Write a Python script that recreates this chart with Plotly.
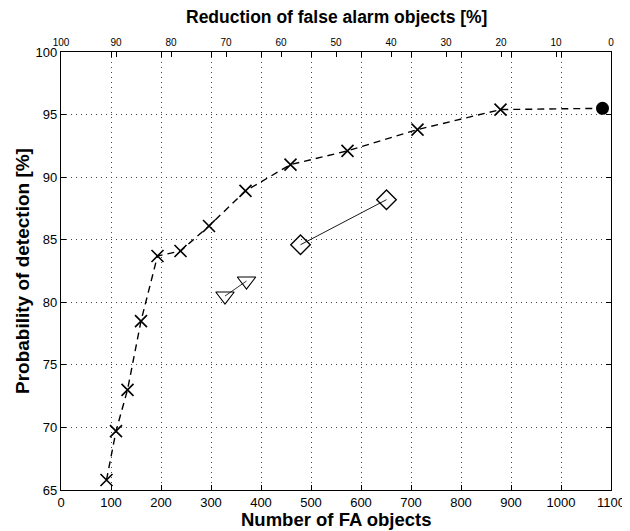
import plotly.graph_objects as go

# Main curve (crosses, dashed)
fa_main = [91, 110, 133, 160, 193, 239, 296, 369, 459, 573, 713, 879, 1083]
pd_main = [65.8, 69.7, 73.0, 78.5, 83.7, 84.1, 86.1, 88.9, 91.0, 92.1, 93.8, 95.4, 95.5]

# Reference point (filled circle)
fa_ref = [1083]
pd_ref = [95.5]

# Triangle pair
fa_tri = [328, 371]
pd_tri = [80.5, 81.7]

# Diamond pair
fa_dia = [479, 651]
pd_dia = [84.6, 88.2]

x_ticks = list(range(0, 1101, 100))
y_ticks = list(range(65, 101, 5))
top_ticks = list(range(0, 101, 10))

FONT = "Liberation Sans Narrow, Liberation Sans, Arial, sans-serif"
TFONT = "Liberation Sans, Arial, sans-serif"

fig = go.Figure()

fig.add_trace(go.Scatter(
    x=fa_main, y=pd_main, mode="lines",
    line=dict(color="black", width=1.4, dash="7px,5px"),
    showlegend=False, hoverinfo="skip"))
fig.add_trace(go.Scatter(
    x=fa_main[:-1], y=pd_main[:-1], mode="markers",
    marker=dict(symbol="x-thin-open", size=12, color="black",
                line=dict(color="black", width=1.6)),
    showlegend=False))
fig.add_trace(go.Scatter(
    x=fa_ref, y=pd_ref, mode="markers",
    marker=dict(symbol="circle", size=13, color="black"),
    showlegend=False))
fig.add_trace(go.Scatter(
    x=fa_tri, y=pd_tri, mode="lines+markers",
    line=dict(color="black", width=0.8),
    marker=dict(symbol="triangle-down-open", size=16, color="black",
                line=dict(color="black", width=1.1)),
    showlegend=False))
fig.add_trace(go.Scatter(
    x=fa_dia, y=pd_dia, mode="lines+markers",
    line=dict(color="black", width=0.9),
    marker=dict(symbol="diamond-open", size=15, color="black",
                line=dict(color="black", width=1.4)),
    showlegend=False))
# invisible trace to anchor the top axis
fig.add_trace(go.Scatter(
    x=[top_ticks[0], top_ticks[-1]], y=[pd_main[0], pd_main[0]], mode="markers",
    marker=dict(opacity=0), xaxis="x2", showlegend=False, hoverinfo="skip"))

GRID = dict(showgrid=True, gridcolor="#444", griddash="1px,4px", gridwidth=1)

# page has an 8px body margin, so the figure is sized 622x523
fig.update_layout(
    width=622, height=523,
    margin=dict(l=53, r=19, t=44, b=41),
    paper_bgcolor="white", plot_bgcolor="white",
    font=dict(family=FONT, size=13, color="black"),
    xaxis=dict(
        range=[0, 1100], tickvals=x_ticks, ticktext=[str(v) for v in x_ticks],
        ticks="inside", ticklen=5, tickcolor="black", tickwidth=1,
        showline=True, linecolor="black", linewidth=1.2, mirror="ticks",
        zeroline=False, automargin=False, **GRID,
        tickfont=dict(size=13),
    ),
    xaxis2=dict(
        overlaying="x", side="top", range=[100, 0], tickvals=top_ticks,
        ticks="inside", ticklen=5, tickcolor="black", automargin=False,
        showgrid=False, zeroline=False, showline=False,
        tickfont=dict(size=10), ticklabelstandoff=3,
    ),
    yaxis=dict(
        range=[65, 100], tickvals=y_ticks,
        ticks="inside", ticklen=5, tickcolor="black",
        showline=True, linecolor="black", linewidth=1.2, mirror="ticks",
        zeroline=False, automargin=False, **GRID,
        tickfont=dict(size=13),
    ),
    annotations=[
        dict(text="<b>Number of FA objects</b>", xref="paper", yref="paper",
             x=0.5, y=0, xanchor="center", yanchor="middle", yshift=-29,
             showarrow=False, font=dict(size=18.5, family=TFONT), borderpad=0),
        dict(text="<b>Reduction of false alarm objects [%]</b>", xref="paper", yref="paper",
             x=0.5, y=1, xanchor="center", yanchor="middle", yshift=35,
             showarrow=False, font=dict(size=17.5, family=TFONT), borderpad=0),
        dict(text="<b>Probability of detection [%]</b>", xref="paper", yref="paper",
             x=0, y=0.5, xanchor="center", yanchor="middle", xshift=-39, textangle=-90,
             showarrow=False, font=dict(size=19, family=TFONT), borderpad=0),
    ],
)

fig.write_html("out.html")
